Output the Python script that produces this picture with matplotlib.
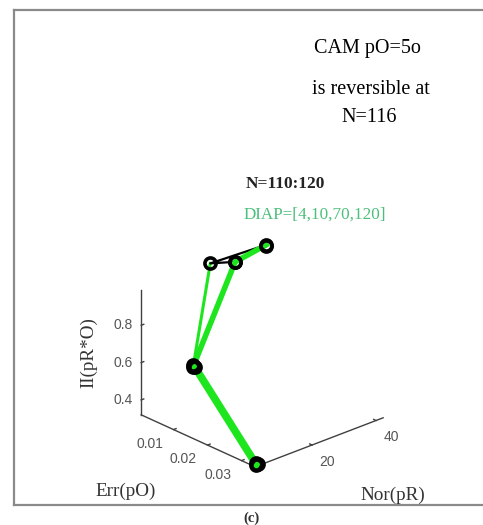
import numpy as np
import matplotlib
matplotlib.use("Agg")
import matplotlib.pyplot as plt
from matplotlib.lines import Line2D
from mpl_toolkits.mplot3d import proj3d

# trajectory for N=110:120  (x = Err(pO), y = Nor(pR), z = II(pR*O))
n_steps = list(range(110, 121))
err = [0.0338, 0.0150, 0.0033, 0.0005, 0.0015, 0.0017, 0.0033, 0.0148, 0.0152, 0.0335, 0.0338]
nor = [2.6, 3.0, 28.6, 23.8, 40.2, 40.0, 28.6, 3.2, 3.4, 2.9, 3.3]
ii = [0.325, 0.69, 0.99, 0.99, 0.99, 0.985, 0.99, 0.70, 0.69, 0.33, 0.325]

# green DIAP paths
green_thin_err = [0.0005, 0.0150]
green_thin_nor = [23.8, 3.0]
green_thin_ii = [0.99, 0.69]
green_mid_err = [0.0015, 0.0033, 0.0150]
green_mid_nor = [40.2, 28.6, 3.2]
green_mid_ii = [0.99, 0.99, 0.70]
green_low_err = [0.0150, 0.0338]
green_low_nor = [3.2, 2.8]
green_low_ii = [0.70, 0.325]

err_ticks = [0.01, 0.02, 0.03]
nor_ticks = [20, 40]
ii_ticks = [0.4, 0.6, 0.8]
err_lim = (0.0005, 0.034)
nor_lim = (2.2, 42.2)
ii_lim = (0.32, 0.99)

GREEN = "#1ee61e"
AXC = "#404040"
TICKC = "#555555"
serif = "Liberation Serif"
sans = "Liberation Sans"

fig = plt.figure(figsize=(4.83, 5.25), dpi=100)
ax = fig.add_axes([0.2382, 0.0617, 0.594, 0.5148], projection="3d")
ax.set_proj_type("ortho")
ax.view_init(elev=24.7, azim=-42.5)
ax.set_box_aspect((168.7, 173.6, 137.6))
ax.set_xlim(*err_lim)
ax.set_ylim(*nor_lim)
ax.set_zlim(*ii_lim)
ax.set_axis_off()

# axis lines (MATLAB style, no box)
x0, x1 = err_lim
y0, y1 = nor_lim
z0, z1 = ii_lim
ax.plot([x0, x0], [y0, y0], [z0, z1], color=AXC, lw=1)
ax.plot([x0, x1], [y0, y0], [z0, z0], color=AXC, lw=1)
ax.plot([x1, x1], [y0, y1], [z0, z0], color=AXC, lw=1)
for t in ii_ticks:
    ax.plot([x0, x0], [y0, y0 + 0.8], [t, t], color=AXC, lw=1)
for t in err_ticks:
    ax.plot([t, t], [y0, y0 + 0.8], [z0, z0], color=AXC, lw=1)
for t in nor_ticks:
    ax.plot([x1, x1 - 0.0007], [t, t], [z0, z0], color=AXC, lw=1)

# data
ax.plot(green_thin_err, green_thin_nor, green_thin_ii, color=GREEN, lw=2.2, zorder=3)
ax.plot(err, nor, ii, color="black", lw=1.6, zorder=4)
ax.plot(green_mid_err, green_mid_nor, green_mid_ii, color=GREEN, lw=4, zorder=5)
ax.plot(green_low_err, green_low_nor, green_low_ii, color=GREEN, lw=5.5, zorder=5)
ax.plot(err, nor, ii, "o", ms=8, mfc="none", mec="black", mew=2.6, zorder=6)
ax.plot(green_low_err[-1:], green_low_nor[-1:], green_low_ii[-1:], "o",
        ms=3, color=GREEN, zorder=7)

# tick labels placed at the projected tick positions
fig.canvas.draw()


def to_pixels(x, y, z):
    xs, ys, _ = proj3d.proj_transform(x, y, z, ax.get_proj())
    return ax.transData.transform((xs, ys))


def tick_label(txt, pos, dx, dy, ha):
    ax.annotate(txt, xy=pos, xycoords="figure pixels", xytext=(dx, dy),
                textcoords="offset pixels", ha=ha, va="center",
                fontsize=10, family=sans, color=TICKC)


for t in ii_ticks:
    tick_label(f"{t:.1f}", to_pixels(x0, y0, t), -8, 0, "right")
for t in err_ticks:
    tick_label(f"{t:.2f}", to_pixels(t, y0, z0), -24, -14, "center")
for t in nor_ticks:
    tick_label(f"{t}", to_pixels(x1, t, z0), 15, -17, "center")

fig.text(367 / 483, 1 - 48 / 525, "CAM pO=5o", ha="center", va="center",
         fontsize=14.5, family=serif)
fig.text(371 / 483, 1 - 89 / 525, "is reversible at", ha="center", va="center",
         fontsize=14.5, family=serif)
fig.text(369 / 483, 1 - 117 / 525, "N=116", ha="center", va="center",
         fontsize=14.5, family=serif)
fig.text(285 / 483, 1 - 184 / 525, f"N={n_steps[0]}:{n_steps[-1]}", ha="center",
         va="center", fontsize=12.5, family=serif, weight="bold", color="#222222")
fig.text(315 / 483, 1 - 215 / 525, "DIAP=[4,10,70,120]", ha="center", va="center",
         fontsize=12.3, family=serif, color="#4cbf7a")
fig.text(126 / 483, 1 - 491 / 525, "Err(pO)", ha="center", va="center",
         fontsize=13.8, family=serif, color="#333333")
fig.text(393 / 483, 1 - 495 / 525, "Nor(pR)", ha="center", va="center",
         fontsize=13.8, family=serif, color="#333333")
fig.text(89 / 483, 1 - 353 / 525, "II(pR*O)", ha="center", va="center",
         rotation=90, fontsize=13.8, family=serif, color="#333333")
fig.text(252 / 483, 1 - 518 / 525, "(c)", ha="center", va="center",
         fontsize=10.5, family=serif, weight="bold", color="#333333")

# panel frame
fl, ft, fb = 14 / 483, 1 - 10 / 525, 1 - 505 / 525
for xs, ys in [([fl, fl], [fb, ft]), ([fl, 1.0], [ft, ft]), ([fl, 1.0], [fb, fb])]:
    fig.add_artist(Line2D(xs, ys, color="#8a8a8a", lw=1.6))

fig.savefig("out.png", dpi=100)
